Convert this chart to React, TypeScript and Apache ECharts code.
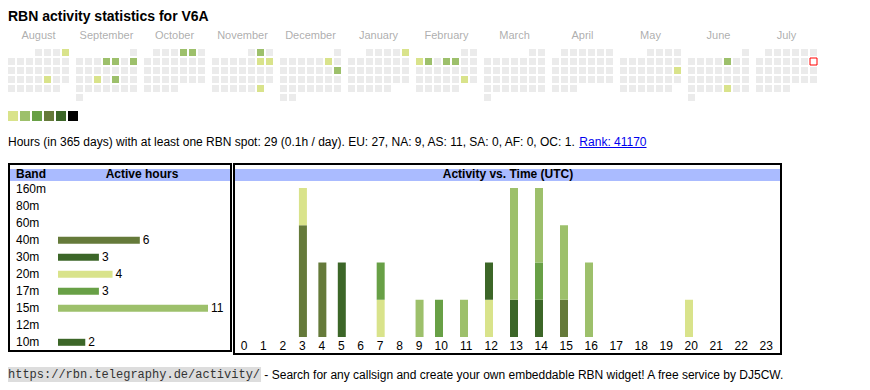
import React, { useEffect, useRef } from "react";
import * as echarts from "echarts";

const TITLE = "RBN activity statistics for V6A";
const MONTH_NAMES = ["August", "September", "October", "November", "December", "January", "February", "March", "April", "May", "June", "July"];
const FIRST_YEAR = 2024;
const FIRST_MONTH = 7; // August, 0-based
const TODAY = "2025-07-13";
const ACTIVE_DAYS: [string, number][] = [
  ["2024-08-04", 1], ["2024-08-23", 1],
  ["2024-09-05", 2], ["2024-09-06", 2], ["2024-09-08", 2], ["2024-09-18", 1], ["2024-09-20", 2],
  ["2024-10-04", 2], ["2024-10-05", 2],
  ["2024-11-02", 2], ["2024-11-09", 1], ["2024-11-10", 1], ["2024-11-30", 1],
  ["2024-12-07", 1], ["2024-12-15", 2],
  ["2025-01-05", 1],
  ["2025-02-03", 1], ["2025-02-04", 2], ["2025-02-06", 2], ["2025-02-07", 2], ["2025-02-22", 1],
  ["2025-05-18", 1],
  ["2025-06-06", 2], ["2025-06-27", 1],
];
const LEVEL_COLORS = ["#d9e38b", "#9dc06b", "#68a046", "#657a3a", "#3c6628", "#000000"];
const LEVELS = [1, 2, 3, 4, 5, 6];

const SUMMARY = "Hours (in 365 days) with at least one RBN spot: 29 (0.1h / day). EU: 27, NA: 9, AS: 11, SA: 0, AF: 0, OC: 1. ";
const RANK = "Rank: 41170";

const BANDS = ["160m", "80m", "60m", "40m", "30m", "20m", "17m", "15m", "12m", "10m"];
const BAND_HOURS = [0, 0, 0, 6, 3, 4, 3, 11, 0, 2];
const BAND_COLORS = ["#000000", "#000000", "#000000", "#657a3a", "#3c6628", "#d9e38b", "#68a046", "#9dc06b", "#000000", "#3c6628"];

const HOURS = ["0", "1", "2", "3", "4", "5", "6", "7", "8", "9", "10", "11", "12", "13", "14", "15", "16", "17", "18", "19", "20", "21", "22", "23"];
const HOURLY_40M = [0, 0, 0, 3, 2, 0, 0, 0, 0, 0, 0, 0, 0, 0, 0, 1, 0, 0, 0, 0, 0, 0, 0, 0];
const HOURLY_30M = [0, 0, 0, 0, 0, 2, 0, 0, 0, 0, 0, 0, 0, 1, 0, 0, 0, 0, 0, 0, 0, 0, 0, 0];
const HOURLY_20M = [0, 0, 0, 1, 0, 0, 0, 1, 0, 0, 0, 0, 1, 0, 0, 0, 0, 0, 0, 0, 1, 0, 0, 0];
const HOURLY_10M = [0, 0, 0, 0, 0, 0, 0, 0, 0, 0, 0, 0, 1, 0, 1, 0, 0, 0, 0, 0, 0, 0, 0, 0];
const HOURLY_17M = [0, 0, 0, 0, 0, 0, 0, 1, 0, 0, 1, 0, 0, 0, 1, 0, 0, 0, 0, 0, 0, 0, 0, 0];
const HOURLY_15M = [0, 0, 0, 0, 0, 0, 0, 0, 0, 1, 0, 1, 0, 3, 2, 2, 2, 0, 0, 0, 0, 0, 0, 0];
// stacking order, bottom to top
const HOURLY_SERIES: [string, number[], string][] = [
  ["40m", HOURLY_40M, "#657a3a"],
  ["30m", HOURLY_30M, "#3c6628"],
  ["20m", HOURLY_20M, "#d9e38b"],
  ["10m", HOURLY_10M, "#3c6628"],
  ["17m", HOURLY_17M, "#68a046"],
  ["15m", HOURLY_15M, "#9dc06b"],
];

const FOOTER_URL = "https://rbn.telegraphy.de/activity/";
const FOOTER_TEXT = " - Search for any callsign and create your own embeddable RBN widget! A free service by DJ5CW.";

const SANS = "'Liberation Sans', Arial, Helvetica, sans-serif";
const MONO = "'Liberation Mono', 'DejaVu Sans Mono', monospace";
const MONTH_STRIDE = 68 / 9; // month block spacing in cell units
// table-like hour columns: width depends on label length
const hourCellWidth = (label: string) => (label.length === 1 ? 19.44 : 25);
const BAR_OFFSET = 10.3;
const HOUR_BAR_WIDTH = 8;

function pad(n: number) {
  return n < 10 ? "0" + n : String(n);
}

function measure(text: string, font: string) {
  const c = document.createElement("canvas").getContext("2d");
  if (!c) return text.length * 6;
  c.font = font;
  return c.measureText(text).width;
}

export default function App() {
  const ref = useRef<HTMLDivElement>(null);
  useEffect(() => {
    if (!ref.current) return;
    const chart = echarts.init(ref.current, undefined, { renderer: "svg" });

    const activeMap: Record<string, number> = {};
    ACTIVE_DAYS.forEach(([d, l]) => (activeMap[d] = l));

    const cells: any[] = [];
    const monthLabels: any[] = [];
    for (let m = 0; m < MONTH_NAMES.length; m++) {
      const y = FIRST_YEAR + Math.floor((FIRST_MONTH + m) / 12);
      const mo = (FIRST_MONTH + m) % 12;
      const first = (new Date(Date.UTC(y, mo, 1)).getUTCDay() + 6) % 7;
      const days = new Date(Date.UTC(y, mo + 1, 0)).getUTCDate();
      monthLabels.push({ value: [m * MONTH_STRIDE + 3, -1.95], name: MONTH_NAMES[m] });
      for (let d = 1; d <= days; d++) {
        const col = (first + d - 1) % 7;
        const row = Math.floor((first + d - 1) / 7);
        const key = `${y}-${pad(mo + 1)}-${pad(d)}`;
        const lvl = activeMap[key];
        const isToday = key === TODAY;
        cells.push({
          value: [m * MONTH_STRIDE + col, row],
          itemStyle: isToday
            ? { color: "#ffffff", borderColor: "#ff0000", borderWidth: 1, opacity: 1 }
            : { color: lvl ? LEVEL_COLORS[lvl - 1] : "#ebebeb", opacity: 1 },
        });
      }
    }

    // hour column layout
    const lefts: number[] = [];
    const centers: number[] = [];
    let acc = 0;
    HOURS.forEach((h) => {
      const w = hourCellWidth(h);
      lefts.push(acc);
      centers.push(acc + w / 2);
      acc += w;
    });
    const hoursTotal = acc;
    const barX = lefts.map((l) => l + BAR_OFFSET);

    // stacked segments [x, base, top]
    const base = HOURS.map(() => 0);
    const stackedSeries = HOURLY_SERIES.map(([name, vals, color]) => {
      const data: number[][] = [];
      vals.forEach((v, i) => {
        if (v > 0) data.push([barX[i], base[i], base[i] + v]);
        base[i] += v;
      });
      return {
        type: "custom", name, xAxisIndex: 3, yAxisIndex: 3, silent: true, clip: false,
        encode: { x: 0, y: [1, 2] },
        data,
        renderItem: (_p: any, api: any) => {
          const x = api.value(0);
          const p0 = api.coord([x, api.value(1)]);
          const p1 = api.coord([x, api.value(2)]);
          return {
            type: "rect",
            shape: { x: p0[0] - HOUR_BAR_WIDTH / 2, y: p1[1], width: HOUR_BAR_WIDTH, height: p0[1] - p1[1] },
            style: { fill: color },
          };
        },
      };
    });

    const summaryW = measure(SUMMARY, `12px ${SANS}`);
    const rankW = measure(RANK, `12px ${SANS}`);
    const urlW = measure(FOOTER_URL, `12px ${MONO}`);

    const option: any = {
      animation: false,
      grid: [
        { left: 11.5, top: 34.5, width: 810, height: 63 },
        { left: 13, top: 106, width: 60, height: 20 },
        { left: 58, top: 180.8, width: 150, height: 170 },
        { left: 234.3, top: 188, width: hoursTotal, height: 149 },
      ],
      xAxis: [
        { gridIndex: 0, type: "value", min: 0, max: 90, show: false },
        { gridIndex: 1, type: "value", min: 0, max: 5, show: false },
        { gridIndex: 2, type: "value", min: 0, max: 11, show: false },
        {
          gridIndex: 3, type: "value", min: 0, max: hoursTotal,
          axisLine: { show: false }, axisTick: { show: false }, splitLine: { show: false },
          axisLabel: {
            customValues: centers, margin: 3, color: "#000", fontSize: 12, fontFamily: SANS,
            showMinLabel: true, showMaxLabel: true,
            formatter: (v: number) => {
              const i = centers.findIndex((c) => Math.abs(c - v) < 0.01);
              return i >= 0 ? HOURS[i] : "";
            },
          },
        },
      ],
      yAxis: [
        { gridIndex: 0, type: "value", min: -2, max: 5, inverse: true, show: false },
        { gridIndex: 1, type: "value", min: -1, max: 1, show: false },
        {
          gridIndex: 2, type: "category", data: BANDS, inverse: true,
          axisLine: { show: false }, axisTick: { show: false }, splitLine: { show: false },
          axisLabel: { interval: 0, align: "left", margin: 42, color: "#000", fontSize: 12, fontFamily: SANS },
        },
        { gridIndex: 3, type: "value", min: 0, max: 4, show: false },
      ],
      series: [
        {
          type: "scatter", name: "days", xAxisIndex: 0, yAxisIndex: 0, symbol: "rect", symbolSize: 7,
          silent: true, itemStyle: { opacity: 1 }, data: cells,
        },
        {
          type: "scatter", name: "months", xAxisIndex: 0, yAxisIndex: 0, symbolSize: 1, silent: true,
          itemStyle: { color: "rgba(0,0,0,0)" },
          label: { show: true, position: "inside", formatter: "{b}", color: "#999999", fontSize: 11, fontFamily: SANS },
          data: monthLabels,
        },
        {
          type: "scatter", name: "legend", xAxisIndex: 1, yAxisIndex: 1, symbol: "rect", symbolSize: 10, silent: true,
          itemStyle: { opacity: 1 },
          data: LEVELS.map((l, i) => ({ value: [i, 0], itemStyle: { color: LEVEL_COLORS[l - 1], opacity: 1 } })),
        },
        {
          type: "bar", name: "bands", xAxisIndex: 2, yAxisIndex: 2, barWidth: 7, silent: true,
          data: BAND_HOURS.map((v, i) => ({ value: v, itemStyle: { color: BAND_COLORS[i] } })),
          label: {
            show: true, position: "right", distance: 3, color: "#000", fontSize: 12, fontFamily: SANS,
            formatter: (p: any) => (p.value > 0 ? String(p.value) : ""),
          },
        },
        ...stackedSeries,
      ],
      graphic: [
        { type: "text", x: 8, y: 15.5, style: { text: TITLE, font: `bold 14px ${SANS}`, fill: "#000", verticalAlign: "middle" } },
        { type: "text", x: 8, y: 142.3, style: { text: SUMMARY, font: `12px ${SANS}`, fill: "#000", verticalAlign: "middle" } },
        { type: "text", x: 8 + summaryW, y: 142.3, style: { text: RANK, font: `12px ${SANS}`, fill: "#0000ee", verticalAlign: "middle" } },
        { type: "line", shape: { x1: 8 + summaryW, y1: 147.5, x2: 8 + summaryW + rankW, y2: 147.5 }, style: { stroke: "#0000ee", lineWidth: 1 } },
        // band table
        { type: "rect", shape: { x: 10, y: 169, width: 220, height: 12 }, style: { fill: "#aabbff" } },
        { type: "rect", shape: { x: 9, y: 164, width: 222, height: 187 }, style: { fill: "none", stroke: "#000", lineWidth: 2 } },
        { type: "text", x: 16, y: 173.5, style: { text: "Band", font: `bold 12px ${SANS}`, fill: "#000", verticalAlign: "middle" } },
        { type: "text", x: 142, y: 173.5, style: { text: "Active hours", font: `bold 12px ${SANS}`, fill: "#000", align: "center", verticalAlign: "middle" } },
        // activity box
        { type: "rect", shape: { x: 235, y: 169, width: 545, height: 12 }, style: { fill: "#aabbff" } },
        { type: "rect", shape: { x: 234, y: 164, width: 547, height: 190 }, style: { fill: "none", stroke: "#000", lineWidth: 2 } },
        { type: "text", x: 508, y: 173.5, style: { text: "Activity vs. Time (UTC)", font: `bold 12px ${SANS}`, fill: "#000", align: "center", verticalAlign: "middle" } },
        // footer
        { type: "rect", shape: { x: 8, y: 367, width: urlW + 1, height: 15 }, style: { fill: "#dddddd" } },
        { type: "text", x: 8, y: 374.5, style: { text: FOOTER_URL, font: `12px ${MONO}`, fill: "#333", verticalAlign: "middle" } },
        { type: "text", x: 8 + urlW + 1, y: 374.5, style: { text: FOOTER_TEXT, font: `12px ${SANS}`, fill: "#000", verticalAlign: "middle" } },
      ],
    };
    chart.setOption(option);
    return () => chart.dispose();
  }, []);
  return <div ref={ref} style={{ position: "absolute", left: 0, top: 0, width: 870, height: 390 }} />;
}
